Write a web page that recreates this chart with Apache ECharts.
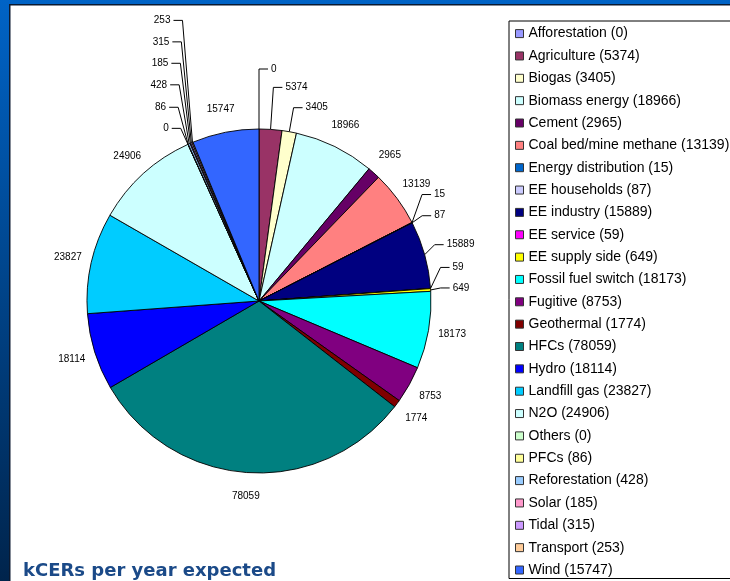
<!DOCTYPE html>
<html>
<head>
<meta charset="utf-8">
<script src="https://cdn.jsdelivr.net/npm/echarts@6/dist/echarts.min.js"></script>
<style>
html,body{margin:0;padding:0;background:#fff;}
#chart{width:730px;height:581px;}
</style>
</head>
<body>
<div id="chart"></div>
<script>
// ---- data ----
const categories = ['Afforestation', 'Agriculture', 'Biogas', 'Biomass energy', 'Cement',
  'Coal bed/mine methane', 'Energy distribution', 'EE households', 'EE industry', 'EE service',
  'EE supply side', 'Fossil fuel switch', 'Fugitive', 'Geothermal', 'HFCs', 'Hydro',
  'Landfill gas', 'N2O', 'Others', 'PFCs', 'Reforestation', 'Solar', 'Tidal', 'Transport', 'Wind'];
const values = [0, 5374, 3405, 18966, 2965, 13139, 15, 87, 15889, 59, 649, 18173, 8753, 1774,
  78059, 18114, 23827, 24906, 0, 86, 428, 185, 315, 253, 15747];
const titleText = 'kCERs per year expected';

// ---- styles ----
const colors = ['#9999FF', '#993366', '#FFFFCC', '#CCFFFF', '#660066', '#FF8080', '#0066CC',
  '#CCCCFF', '#000080', '#FF00FF', '#FFFF00', '#00FFFF', '#800080', '#800000', '#008080',
  '#0000FF', '#00CCFF', '#CCFFFF', '#CCFFCC', '#FFFF99', '#99CCFF', '#FF99CC', '#CC99FF',
  '#FFCC99', '#3366FF'];
// vertical rise of the leader line for labels that use one (0 = label without leader line)
const leaderRise = [60, 42, 24, 0, 0, 0, 28, 7, 10, 21, 2, 0, 0, 0, 0, 0, 0, 0, 16, 37, 59, 80, 101, 122, 0];
const LEADER_SLANT_MAX = 10, LEADER_H = 9, LABEL_GAP = 3;

const FONT = 'Liberation Sans, Arial, sans-serif';
const CENTER = [259, 301];
const R = 172;

const mainData = categories.map(function (name, i) {
  const lead = leaderRise[i] > 0;
  return {
    name: name, value: values[i],
    itemStyle: {color: colors[i]},
    label: {show: lead},
    labelLine: {show: lead}
  };
});
const ringData = categories.map(function (name, i) {
  return {
    name: name, value: values[i],
    itemStyle: {color: 'rgba(0,0,0,0)', borderWidth: 0},
    label: {show: leaderRise[i] === 0}
  };
});

const chart = echarts.init(document.getElementById('chart'), null, {renderer: 'canvas'});
chart.setOption({
  animation: false,
  backgroundColor: {
    type: 'linear', x: 0, y: 0, x2: 0, y2: 1,
    colorStops: [{offset: 0, color: '#0063c6'}, {offset: 1, color: '#00244c'}]
  },
  graphic: [{
    type: 'rect', z: -10, silent: true,
    shape: {x: 9.75, y: 4.75, width: 740, height: 600},
    style: {fill: '#ffffff', stroke: '#0a1930', lineWidth: 1.5}
  }],
  title: {
    text: titleText, left: 23, top: 562, padding: 0,
    textStyle: {fontFamily: 'DejaVu Sans', fontWeight: 'bold', fontSize: 18, color: '#1b4a88'}
  },
  legend: {
    orient: 'vertical', left: 509, top: 21,
    padding: [5.6, 20, 1.5, 6],
    itemGap: 8.35, itemWidth: 8, itemHeight: 8,
    icon: 'rect',
    borderColor: '#000', borderWidth: 1, backgroundColor: '#fff',
    selectedMode: false,
    itemStyle: {borderColor: '#333', borderWidth: 1},
    textStyle: {fontFamily: FONT, fontSize: 14, color: '#000', padding: 0},
    data: categories,
    formatter: function (name) {
      return name + ' (' + values[categories.indexOf(name)] + ')';
    }
  },
  series: [{
    type: 'pie', name: 'main',
    center: CENTER, radius: R,
    startAngle: 90, clockwise: true,
    avoidLabelOverlap: false,
    emphasis: {disabled: true},
    silent: true,
    itemStyle: {borderColor: '#000', borderWidth: 0.9},
    label: {position: 'outside', formatter: '{c}', fontFamily: FONT, fontSize: 10, color: '#000'},
    labelLine: {length: 10, length2: LEADER_H, smooth: false, lineStyle: {color: '#000', width: 1}},
    labelLayout: function (p) {
      const pts = p.labelLinePoints;
      if (!pts || pts.length < 3) return;
      const rise = leaderRise[p.dataIndex];
      if (!rise) return;
      const dx = pts[1][0] - pts[0][0], dy = pts[1][1] - pts[0][1];
      const side = dx > -0.01 ? 1 : -1;
      const slant = Math.abs(dy) < 1e-6 ? LEADER_SLANT_MAX : Math.min(LEADER_SLANT_MAX, rise * Math.abs(dx / dy));
      const y = pts[0][1] - rise;
      const ex = pts[0][0] + side * slant;
      const hx = ex + side * LEADER_H;
      return {
        x: hx + side * LABEL_GAP, y: y,
        align: side > 0 ? 'left' : 'right', verticalAlign: 'middle',
        labelLinePoints: [pts[0], [ex, y], [hx, y]]
      };
    },
    data: mainData
  }, {
    type: 'pie', name: 'labels',
    center: CENTER, radius: [R + 6, R + 36],
    startAngle: 90, clockwise: true,
    silent: true, emphasis: {disabled: true},
    label: {position: 'inside', formatter: '{c}', fontFamily: FONT, fontSize: 10, color: '#000'},
    labelLine: {show: false},
    data: ringData
  }]
});
</script>
</body>
</html>
